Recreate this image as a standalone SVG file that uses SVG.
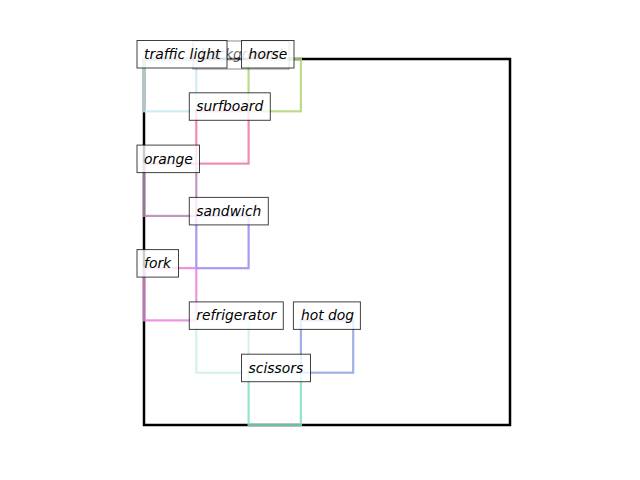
<svg xmlns="http://www.w3.org/2000/svg" width="640" height="480" viewBox="0 0 640 480">
<style>
.bb{fill:none;stroke-width:2.2;stroke-opacity:0.85}
.lb{fill:#fff;fill-opacity:0.8;stroke:#000;stroke-opacity:0.75;stroke-width:1}
.t{font-family:"DejaVu Sans",sans-serif;font-style:italic;font-size:13.9px;fill:#000}
</style>
<rect width="640" height="480" fill="#fff"/>
<g id="background">
<rect x="144" y="59" width="366" height="366" fill="none" stroke="#000" stroke-width="2.5"/>
</g>
<g id="boxes">
<rect id="traffic-light-box" class="bb" x="144" y="59" width="52.3" height="52.3" stroke="#c6ecef"/>
<rect id="horse-box" class="bb" x="248.6" y="59" width="52.3" height="52.3" stroke="#b3d477"/>
<rect id="surfboard-box" class="bb" x="196.3" y="111.3" width="52.3" height="52.3" stroke="#ef77a6"/>
<rect id="orange-box" class="bb" x="144" y="163.6" width="52.3" height="52.3" stroke="#b585b5"/>
<rect id="sandwich-box" class="bb" x="196.3" y="215.9" width="52.3" height="52.3" stroke="#9b87ef"/>
<rect id="fork-box" class="bb" x="144" y="268.1" width="52.3" height="52.3" stroke="#ea80da"/>
<rect id="refrigerator-box" class="bb" x="196.3" y="320.4" width="52.3" height="52.3" stroke="#cff0e2"/>
<rect id="hotdog-box" class="bb" x="300.9" y="320.4" width="52.3" height="52.3" stroke="#8ea2df"/>
<rect id="scissors-box" class="bb" x="248.6" y="372.7" width="52.3" height="52.3" stroke="#82dfbf"/>
</g>
<g id="label-background" opacity="0.6">
<rect class="lb" x="193" y="41" width="96" height="28"/>
<text class="t" x="200" y="59">background</text>
</g>
<g id="label-traffic-light">
<rect class="lb" x="137" y="40.5" width="90" height="27.5"/>
<text class="t" x="144" y="59">traffic light</text>
</g>
<g id="label-horse">
<rect class="lb" x="241.5" y="40.5" width="52.5" height="27.5"/>
<text class="t" x="248.6" y="59">horse</text>
</g>
<g id="label-surfboard">
<rect class="lb" x="189.3" y="92.8" width="81" height="27.5"/>
<text class="t" x="196.3" y="111.3">surfboard</text>
</g>
<g id="label-orange">
<rect class="lb" x="137" y="145.1" width="62.5" height="27.5"/>
<text class="t" x="144" y="163.6">orange</text>
</g>
<g id="label-sandwich">
<rect class="lb" x="189.3" y="197.4" width="79" height="27.5"/>
<text class="t" x="196.3" y="215.9">sandwich</text>
</g>
<g id="label-fork">
<rect class="lb" x="137" y="249.6" width="41.5" height="27.5"/>
<text class="t" x="144" y="268.1">fork</text>
</g>
<g id="label-refrigerator">
<rect class="lb" x="189.3" y="301.9" width="94" height="27.5"/>
<text class="t" x="196.3" y="320.4">refrigerator</text>
</g>
<g id="label-hotdog">
<rect class="lb" x="293.4" y="301.9" width="67" height="27.5"/>
<text class="t" x="300.9" y="320.4">hot dog</text>
</g>
<g id="label-scissors">
<rect class="lb" x="241.5" y="354.2" width="69" height="27.5"/>
<text class="t" x="248.6" y="372.7">scissors</text>
</g>
<g id="connectors"/>
</svg>
